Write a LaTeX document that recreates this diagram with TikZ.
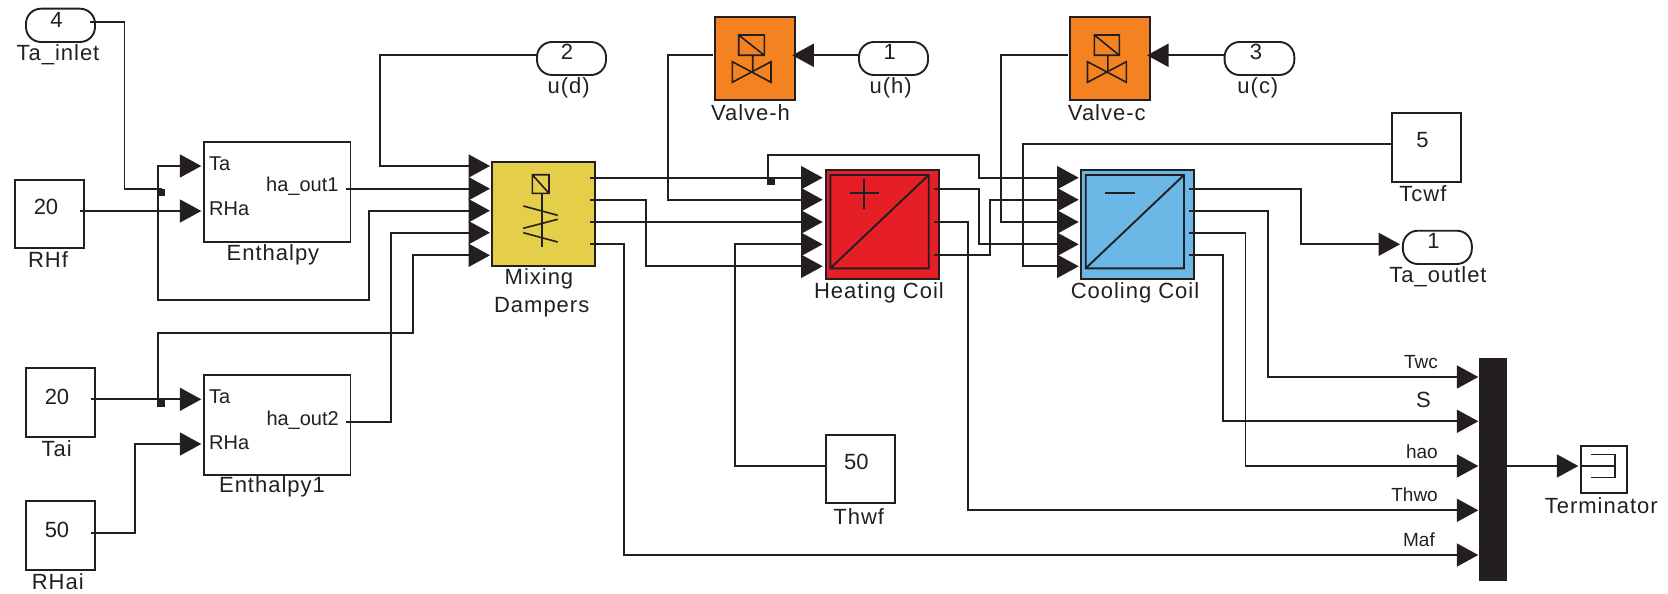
\documentclass[tikz,border=0pt]{standalone}
\usepackage{fontspec}
\setmainfont[LetterSpace=4.5]{Liberation Sans}
\newfontfamily\plainf{Liberation Sans}
\usetikzlibrary{arrows.meta}
\definecolor{ink}{HTML}{231F20}
\definecolor{ydamp}{HTML}{E5CF4A}
\definecolor{ovalve}{HTML}{F58220}
\definecolor{rheat}{HTML}{E61E26}
\definecolor{bcool}{HTML}{6BB8E6}
\tikzset{
  blockbox/.style={draw=ink,line width=1.9pt,inner sep=0pt,outer sep=0pt,fill=white},
  portbox/.style={blockbox,rounded corners=15pt},
  wire/.style={draw=ink,line width=1.9pt},
  sig/.style={wire,-{Triangle[length=21.5pt,width=23pt,sep=0pt]}},
  thin icon/.style={draw=ink,line width=1.6pt},
  lab/.style={text=ink,inner sep=0pt,font=\fontsize{22}{26}\selectfont},
  num/.style={text=ink,inner sep=0pt,font=\plainf\fontsize{22}{26}\selectfont},
  pin/.style={text=ink,inner sep=0pt,font=\plainf\fontsize{20}{24}\selectfont},
  sglab/.style={text=ink,inner sep=0pt,anchor=east,font=\plainf\fontsize{19}{23}\selectfont},
  jun/.style={fill=ink,draw=none,inner sep=0pt,minimum width=8pt,minimum height=7pt}
}
\newcommand{\boxat}[6]{%
  \pgfmathsetmacro{\bcx}{(#3+#5)/2}\pgfmathsetmacro{\bcy}{(#4+#6)/2}%
  \pgfmathsetmacro{\bw}{#5-#3}\pgfmathsetmacro{\bh}{#6-#4}%
  \node[#2,minimum width=\bw pt,minimum height=\bh pt] (#1) at (\bcx,\bcy) {};}
\begin{document}
\begin{tikzpicture}[x=1pt,y=-1pt]
\useasboundingbox (0,0) rectangle (1668,594);
% blocks
\boxat{in4}{portbox}{26}{8.7}{95}{42}
\boxat{outd}{portbox}{537}{42}{606}{75}
\boxat{inh}{portbox}{859}{42}{928}{75}
\boxat{inc}{portbox}{1224.6}{42}{1294.3}{75}
\boxat{outa}{portbox}{1402.9}{230.7}{1471.8}{264}
\boxat{rhf}{blockbox}{15.3}{180}{84}{248.3}
\boxat{tai}{blockbox}{26}{368.3}{95.3}{437}
\boxat{rhai}{blockbox}{26}{501.3}{95.3}{570}
\boxat{thwf}{blockbox}{825.7}{434.7}{894.7}{503.3}
\boxat{tcwf}{blockbox}{1391.8}{113.3}{1461}{182}
\boxat{en}{blockbox}{204}{142}{350.5}{241.7}
\boxat{enb}{blockbox}{204}{375.3}{350.5}{474.7}
\boxat{mix}{blockbox,fill=ydamp}{492.3}{162}{595}{266}
\boxat{valh}{blockbox,fill=ovalve}{715}{17.3}{795}{99.7}
\boxat{valc}{blockbox,fill=ovalve}{1069.6}{17.3}{1150.4}{99.7}
\boxat{heat}{blockbox,fill=rheat}{825.7}{170.3}{939.3}{279.3}
\boxat{cool}{blockbox,fill=bcool}{1081.3}{170.3}{1194.3}{279.3}
\boxat{mux}{blockbox,fill=ink}{1480}{359}{1505.7}{579.7}
\boxat{term}{blockbox}{1580.7}{446}{1627.3}{492.7}
% block icons
\draw[thin icon] (532.3,174.7) rectangle (549,193.3) (532.3,174.7) -- (549,193.3);
\draw[thin icon] (542,193.3) -- (542,246.7);
\draw[thin icon] (523.3,206) -- (557.7,215.3) (523.3,228.3) -- (557.7,219.3) (523.3,232.7) -- (557.7,242);
\draw[thin icon] (738.7,35) rectangle (764.3,55.3) (738.7,35) -- (764.3,55.3) (752.7,55.3) -- (752.7,71.7);
\draw[thin icon] (732.3,61.7) -- (771,82.3) -- (771,61.7) -- (732.3,82.3) -- cycle;
\draw[thin icon] (1094.3,35) rectangle (1119.3,55.3) (1094.3,35) -- (1119.3,55.3) (1107.9,55.3) -- (1107.9,71.7);
\draw[thin icon] (1087.5,61.7) -- (1126.4,82.3) -- (1126.4,61.7) -- (1087.5,82.3) -- cycle;
\draw[wire] (830.3,175) rectangle (928.7,268.3) (830.3,268.3) -- (928.7,175);
\draw[wire] (850,192.7) -- (879.3,192.7) (864.3,179.3) -- (864.3,209);
\draw[wire] (1085.7,175) rectangle (1184,268.3) (1085.7,268.3) -- (1184,175);
\draw[wire] (1105,193) -- (1135.4,193);
\draw[thin icon] (1591,454.3) -- (1615,454.3) -- (1615,477.3) -- (1591,477.3) (1582.3,466) -- (1615,466);
% ports
\coordinate (in4o) at (90,22);
\coordinate (rhfo) at (80,211);
\coordinate (taio) at (90.7,399.3);
\coordinate (rhaio) at (90.7,532.7);
\coordinate (eni1) at (201.3,166);
\coordinate (eni2) at (201.3,211);
\coordinate (eno) at (345.6,188.7);
\coordinate (enbi1) at (201.3,399.3);
\coordinate (enbi2) at (201.3,444);
\coordinate (enbo) at (345.6,421.7);
\foreach \n/\y in {1/166,2/188.7,3/210.7,4/232.7,5/255.3} {\coordinate (mixi\n) at (490,\y);}
\foreach \n/\y in {1/177.7,2/199.7,3/222,4/244.3} {\coordinate (mixo\n) at (590,\y);}
\foreach \n/\y in {1/177.7,2/199.7,3/222,4/244.3,5/266.3} {\coordinate (heai\n) at (822.7,\y); \coordinate (cooi\n) at (1078.7,\y);}
\foreach \n/\y in {1/188.7,2/222,3/255.3} {\coordinate (heao\n) at (934,\y);}
\foreach \n/\y in {1/188.7,2/210.7,3/233,4/255} {\coordinate (cooo\n) at (1189,\y);}
\foreach \n/\y in {1/377,2/421.3,3/466,4/510.3,5/555} {\coordinate (muxi\n) at (1478.3,\y);}
\coordinate (muxo) at (1500,466);
\coordinate (termi) at (1578.3,466);
\coordinate (outdi) at (537,55.3);
\coordinate (inho) at (859,55.3);
\coordinate (inco) at (1224.6,55.3);
\coordinate (valhi) at (792.3,55.3);
\coordinate (valci) at (1147,55.3);
\coordinate (valho) at (713,55.3);
\coordinate (valco) at (1067.6,55.3);
\coordinate (outai) at (1400,244.3);
\coordinate (thwfo) at (825.7,466);
\coordinate (tcwfo) at (1391.8,144.3);
% junctions
\node[jun] (j1) at (161,192) {};
\node[jun] (j2) at (161,403) {};
\node[jun] (j3) at (771,181) {};
% connectors
\draw[wire] (in4o) -- (124.5,22) -- (124.5,188.7) -- (161,188.7) -- (j1);
\draw[sig] (j1) -- (157.7,192) -- (157.7,166) -- (eni1);
\draw[sig] (rhfo) -- (eni2);
\draw[sig] (eno) -- (mixi2);
\draw[sig] (j1) -- (157.7,192) -- (157.7,299.7) -- (369,299.7) -- (369,210.7) -- (mixi3);
\draw[sig] (outdi) -- (379.6,55.3) -- (379.6,166) -- (mixi1);
\draw[sig] (taio) -- (enbi1);
\draw[sig] (rhaio) -- (135,532.7) -- (135,444) -- (enbi2);
\draw[sig] (enbo) -- (390.7,421.7) -- (390.7,232.7) -- (mixi4);
\draw[sig] (j2) -- (157.7,403) -- (157.7,333) -- (413,333) -- (413,255.3) -- (mixi5);
\draw[sig] (mixo1) -- (heai1);
\draw[sig] (mixo2) -- (646,199.7) -- (646,266.3) -- (heai5);
\draw[sig] (mixo3) -- (heai3);
\draw[sig] (mixo4) -- (623.7,244.3) -- (623.7,555) -- (muxi5);
\draw[sig] (valho) -- (668.3,55.3) -- (668.3,199.7) -- (heai2);
\draw[sig] (thwfo) -- (735,466) -- (735,244.3) -- (heai4);
\draw[sig] (inho) -- (valhi);
\draw[sig] (inco) -- (valci);
\draw[sig] (j3) -- (768,181) -- (768,155.3) -- (979,155.3) -- (979,177.7) -- (cooi1);
\draw[sig] (heao1) -- (979,188.7) -- (979,244.3) -- (cooi4);
\draw[sig] (heao2) -- (968,222) -- (968,510.3) -- (muxi4);
\draw[sig] (heao3) -- (990,255.3) -- (990,199.7) -- (cooi2);
\draw[sig] (valco) -- (1001.3,55.3) -- (1001.3,222) -- (cooi3);
\draw[sig] (tcwfo) -- (1023.3,144.3) -- (1023.3,266.3) -- (cooi5);
\draw[sig] (cooo1) -- (1301.4,188.7) -- (1301.4,244.3) -- (outai);
\draw[sig] (cooo2) -- (1267.6,210.7) -- (1267.6,377) -- (muxi1);
\draw[sig] (cooo3) -- (1245.5,233) -- (1245.5,466) -- (muxi3);
\draw[sig] (cooo4) -- (1223.1,255) -- (1223.1,421.3) -- (muxi2);
\draw[sig] (muxo) -- (termi);
% texts
\node[num] (t4) at (56.6,19.5) {4};
\node[lab] (l1) at (58,54.5) {Ta\_inlet};
\node[num] (t2) at (567,52) {2};
\node[lab] (l2) at (568.7,88) {u(d)};
\node[num] (t1) at (889.7,52) {1};
\node[lab] (l3) at (890.7,88) {u(h)};
\node[num] (t3) at (1256,52) {3};
\node[lab] (l4) at (1257.9,88) {u(c)};
\node[num] (t5) at (1433.6,241) {1};
\node[lab] (l5) at (1438,276.7) {Ta\_outlet};
\node[num] (t6) at (46,207) {20};
\node[lab] (l6) at (48,260) {RHf};
\node[num] (t7) at (57,396.7) {20};
\node[lab] (l7) at (56.6,449) {Tai};
\node[num] (t8) at (57,529.5) {50};
\node[lab] (l8) at (57.8,582) {RHai};
\node[num] (t9) at (856.3,462.3) {50};
\node[lab] (l9) at (858.7,516.7) {Thwf};
\node[num] (t10) at (1422.5,140) {5};
\node[lab] (l10) at (1422.9,194) {Tcwf};
\node[pin,anchor=west] (p1) at (209,164) {Ta};
\node[pin,anchor=west] (p2) at (209,208.5) {RHa};
\node[pin,anchor=east] (p3) at (338.7,186) {ha\_out1};
\node[lab] (l11) at (273,255) {Enthalpy};
\node[pin,anchor=west] (p4) at (209,397) {Ta};
\node[pin,anchor=west] (p5) at (209,442.5) {RHa};
\node[pin,anchor=east] (p6) at (339,420.5) {ha\_out2};
\node[lab] (l12) at (272,487.3) {Enthalpy1};
\node[lab] (l13) at (539,278.7) {Mixing};
\node[lab] (l14) at (541.7,307.7) {Dampers};
\node[lab] (l15) at (750.5,112.3) {Valve-h};
\node[lab] (l16) at (1106.8,112.3) {Valve-c};
\node[lab] (l17) at (879,293) {Heating Coil};
\node[lab] (l18) at (1135,293) {Cooling Coil};
\node[lab] (l19) at (1601.3,505.3) {Terminator};
\node[sglab] (s1) at (1438,362) {Twc};
\node[sglab,font=\plainf\fontsize{22}{26}\selectfont] (s2) at (1431,400.3) {S};
\node[sglab] (s3) at (1438,451.7) {hao};
\node[sglab] (s4) at (1438,495) {Thwo};
\node[sglab] (s5) at (1435,539.3) {Maf};
\end{tikzpicture}
\end{document}
